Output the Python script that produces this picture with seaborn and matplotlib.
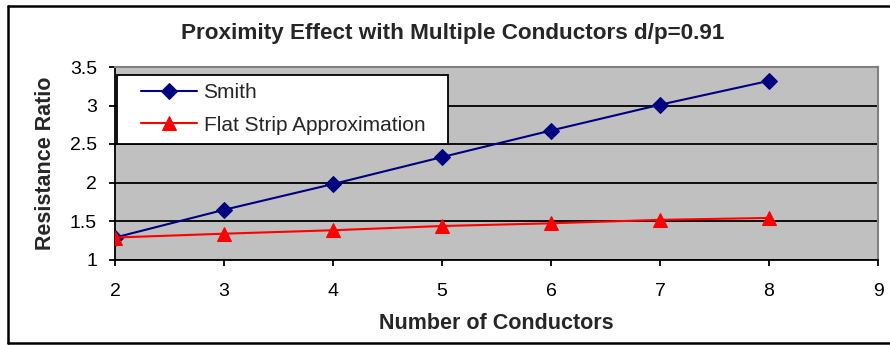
import matplotlib
matplotlib.use("Agg")
import matplotlib.pyplot as plt
import seaborn as sns
import pandas as pd
from matplotlib.patches import Rectangle
from matplotlib.lines import Line2D

# ---- data ----
conductors = [2, 3, 4, 5, 6, 7, 8]
smith = [1.285, 1.645, 1.98, 2.33, 2.675, 3.01, 3.32]
flat_strip = [1.285, 1.335, 1.38, 1.435, 1.47, 1.515, 1.54]
series_names = ["Smith", "Flat Strip Approximation"]
x_ticks = [2, 3, 4, 5, 6, 7, 8, 9]
y_ticks = [1, 1.5, 2, 2.5, 3, 3.5]
y_tick_labels = ["1", "1.5", "2", "2.5", "3", "3.5"]
title = "Proximity Effect with Multiple Conductors d/p=0.91"
x_label = "Number of Conductors"
y_label = "Resistance Ratio"

df = pd.DataFrame({
    "n": conductors * 2,
    "ratio": smith + flat_strip,
    "series": [series_names[0]] * len(conductors) + [series_names[1]] * len(conductors),
})

sns.set_style("white")
plt.rcParams["font.family"] = ["Liberation Sans", "DejaVu Sans"]

W, H = 890, 345
fig = plt.figure(figsize=(W / 100, H / 100), dpi=100)
ax_l, ax_r, ax_t, ax_b = 115, 878, 67, 259.5
ax = fig.add_axes([ax_l / W, 1 - ax_b / H, (ax_r - ax_l) / W, (ax_b - ax_t) / H])
ax.set_facecolor("#C0C0C0")

palette = {series_names[0]: "#000080", series_names[1]: "#FF0000"}
markers = {series_names[0]: "D", series_names[1]: "^"}
sizes = {series_names[0]: 8, series_names[1]: 9.5}

for name in series_names:
    sub = df[df["series"] == name]
    sns.lineplot(data=sub, x="n", y="ratio", ax=ax, color=palette[name],
                 marker=markers[name], markersize=sizes[name],
                 markeredgecolor=palette[name], linewidth=1.5,
                 label=name, legend=False, zorder=3)

ax.set_xlim(2, 9)
ax.set_ylim(1, 3.5)
ax.set_xticks(x_ticks)
ax.set_yticks(y_ticks)
ax.set_yticklabels(y_tick_labels)
ax.yaxis.grid(True, color="black", linewidth=1.3)
ax.xaxis.grid(False)
ax.set_axisbelow(True)

for s in ["left", "bottom"]:
    ax.spines[s].set_color("black")
    ax.spines[s].set_linewidth(1.3)
for s in ["top", "right"]:
    ax.spines[s].set_color("#808080")
    ax.spines[s].set_linewidth(1.5)

ax.tick_params(axis="both", direction="out", length=4, width=1.3, color="black",
               labelsize=14, labelcolor="black")
ax.tick_params(axis="x", pad=13)
ax.tick_params(axis="y", pad=9)
ax.tick_params(left=True, bottom=True)

ax.set_xlabel(x_label, fontsize=15.5, fontweight="bold", labelpad=9)
ax.set_ylabel(y_label, fontsize=15.5, fontweight="bold", labelpad=10)

fig.text(453 / W, 1 - 33 / H, title, fontsize=16.2, fontweight="bold",
         ha="center", va="center")

# legend box
lx0, ly0, lx1, ly1 = 117, 75, 448, 144
fig.add_artist(Rectangle((lx0 / W, 1 - ly1 / H), (lx1 - lx0) / W, (ly1 - ly0) / H,
                         transform=fig.transFigure, facecolor="white",
                         edgecolor="black", linewidth=1.3, zorder=5))
handles, labels = ax.get_legend_handles_labels()
leg = fig.legend(handles, labels, loc="center left",
                 bbox_to_anchor=(141 / W, 1 - 109 / H), frameon=False,
                 fontsize=15, handlelength=2.7, handletextpad=0.3,
                 labelspacing=0.65, borderpad=0, borderaxespad=0)
leg.set_zorder(6)

# figure border (chart area)
bc = "black"
fig.add_artist(Line2D([7.5 / W, 7.5 / W], [1 - 343 / H, 1 - 6 / H], color=bc, linewidth=1.8, transform=fig.transFigure))
fig.add_artist(Line2D([7.5 / W, 1.0], [1 - 6 / H, 1 - 6 / H], color=bc, linewidth=1.8, transform=fig.transFigure))
fig.add_artist(Line2D([7.5 / W, 1.0], [1 - 343 / H, 1 - 343 / H], color=bc, linewidth=1.8, transform=fig.transFigure))

fig.savefig("out.png", dpi=100)
